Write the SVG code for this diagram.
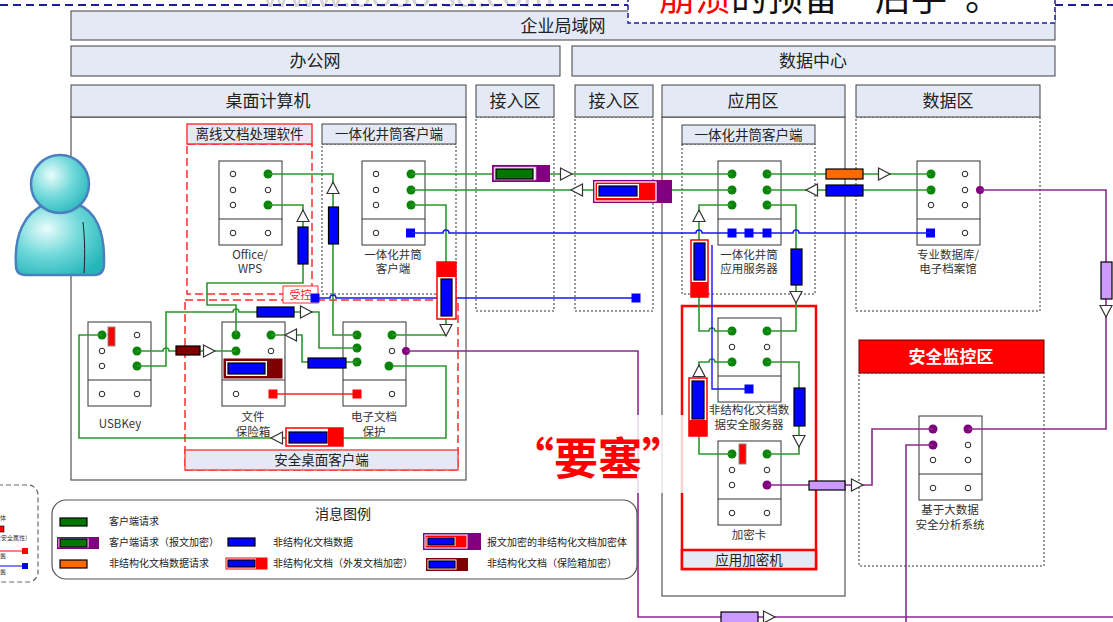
<svg xmlns="http://www.w3.org/2000/svg" width="1113" height="622" viewBox="0 0 1113 622">
<defs>
<style>
text{font-family:"Noto Sans CJK SC","Noto Sans",sans-serif;}
.hd{fill:#e4eaf5;stroke:#404040;stroke-width:1}
.frame{fill:#fff;stroke:#555;stroke-width:1.2}
.zone{fill:none;stroke:#333;stroke-width:1;stroke-dasharray:2 2}
.h17{font-size:17px;fill:#222;text-anchor:middle}
.h13{font-size:13.5px;fill:#222;text-anchor:middle}
.lb{font-size:11.5px;fill:#333;text-anchor:middle}
.dev{fill:#fff;stroke:#333;stroke-width:1}
.ho{fill:#fff;stroke:#222;stroke-width:1}
.gd{fill:#0a850a}
.pd{fill:#800080}
.bs{fill:#0000ff}
.rs{fill:#ff0000}
.gl{fill:none;stroke:#2c962c;stroke-width:1.6}
.bl{fill:none;stroke:#1414ff;stroke-width:1.4}
.pl{fill:none;stroke:#8c2a8c;stroke-width:1.6}
.rl{fill:none;stroke:#ff2020;stroke-width:1.4}
.tri{fill:#fff;stroke:#333;stroke-width:1.2}
.kb{stroke:#000;stroke-width:1.2}
.lg{font-size:10px;fill:#222}
.rdash{fill:none;stroke:#ff2b2b;stroke-width:1.5;stroke-dasharray:8 4}
</style>
<path id="tri" class="tri" d="M-5.5,-6 L6,0 L-5.5,6 Z"/>
<g id="devframe"><rect class="dev" x="0" y="0" width="63" height="84"/><line x1="0" y1="58" x2="63" y2="58" stroke="#333" stroke-width="1"/></g>
<radialGradient id="skin" cx="0.35" cy="0.35" r="0.75">
<stop offset="0" stop-color="#eafcfc"/>
<stop offset="0.5" stop-color="#72d9da"/>
<stop offset="1" stop-color="#25b6ba"/>
</radialGradient>
</defs>
<rect width="1113" height="622" fill="#fff"/>

<!-- faded page text at the top edge -->
<text x="262" y="7" font-size="30" fill="#d4d4d4" font-family="Liberation Sans, sans-serif" textLength="292" lengthAdjust="spacingAndGlyphs">www.oo3o.sd.com</text>

<!-- zone frames -->
<g id="lan"><rect class="hd" x="71" y="11" width="984" height="29"/><text class="h17" x="563" y="32">企业局域网</text></g>
<g id="office-net"><rect class="hd" x="71" y="46" width="489" height="30"/><text class="h17" x="315" y="67">办公网</text></g>
<g id="dc"><rect class="hd" x="572" y="46" width="483" height="30"/><text class="h17" x="813" y="67">数据中心</text></g>

<g id="desktop">
<rect class="frame" x="71" y="117" width="395" height="363"/>
<rect class="hd" x="71" y="85" width="395" height="32"/><text class="h17" x="268" y="107">桌面计算机</text>
</g>
<g id="access1"><rect class="zone" x="476" y="117" width="78" height="194"/><rect class="hd" x="476" y="85" width="78" height="32"/><text class="h17" x="515" y="107">接入区</text></g>
<g id="access2"><rect class="zone" x="575" y="117" width="78" height="194"/><rect class="hd" x="575" y="85" width="78" height="32"/><text class="h17" x="614" y="107">接入区</text></g>
<g id="appzone"><rect class="frame" x="662" y="117" width="183" height="479"/><rect class="hd" x="662" y="85" width="183" height="32"/><text class="h17" x="753" y="107">应用区</text></g>
<g id="datazone"><rect class="zone" x="856" y="117" width="184" height="194"/><rect class="hd" x="856" y="85" width="184" height="32"/><text class="h17" x="948" y="107">数据区</text></g>
<g id="monzone"><rect class="zone" x="859" y="373" width="185" height="193"/><rect x="859" y="340" width="185" height="33" fill="#ff0000" stroke="#600" stroke-width="1"/><text x="951" y="363" font-size="17" font-weight="bold" fill="#fff" text-anchor="middle">安全监控区</text></g>

<g id="offline-sw"><rect class="rdash" x="187" y="144" width="125" height="150"/><rect x="187" y="124" width="125" height="20" fill="#e4eaf5" stroke="#ff2020" stroke-width="1.3"/><text class="h13" x="249.5" y="139">离线文档处理软件</text></g>
<g id="client-sw"><rect class="zone" x="322" y="144" width="134" height="150"/><rect class="hd" x="322" y="124" width="134" height="20"/><text class="h13" x="389" y="139">一体化井筒客户端</text></g>
<g id="app-client"><rect class="zone" x="682" y="144" width="133" height="150"/><rect class="hd" x="682" y="125" width="133" height="19"/><text class="h13" x="748.5" y="139.5">一体化井筒客户端</text></g>
<g id="secure-desk"><rect class="rdash" x="185" y="300" width="273" height="170"/><rect x="185" y="450" width="273" height="20" fill="#e4eaf5" stroke="#ff3030" stroke-width="1.3"/><text class="h13" x="321.5" y="465">安全桌面客户端</text></g>
<g id="crypto-box"><rect x="682" y="306" width="134" height="263" fill="none" stroke="#ff0000" stroke-width="2.5"/><rect x="682" y="550" width="134" height="19" fill="#e4eaf5" stroke="#ff0000" stroke-width="2.5"/><text class="h13" x="749" y="565">应用加密机</text></g>
<g id="ctrl-tag"><rect x="283" y="286" width="35" height="17" fill="#fff" stroke="#ff3030" stroke-width="1"/><text x="300.5" y="299" font-size="11" fill="#ff2020" text-anchor="middle">受控</text></g>

<!-- user -->
<g id="user">
<path d="M16,266 C14,236 24,212 46,204 L76,204 C96,210 105,232 104,264 Q104,275 94,275 L26,275 Q16,275 16,266 Z" fill="url(#skin)" stroke="#4b7fc0" stroke-width="2.5"/>
<circle cx="60" cy="184" r="29" fill="url(#skin)" stroke="#4b7fc0" stroke-width="2.5"/>
<path d="M83,222 C85,240 85,258 84,273" fill="none" stroke="#222" stroke-width="1"/>
</g>

<!-- devices -->
<g id="office-wps">
<use href="#devframe" x="219" y="161"/>
<circle class="ho" cx="233" cy="174" r="2.8"/><circle class="ho" cx="233" cy="190" r="2.8"/><circle class="ho" cx="233" cy="205" r="2.8"/>
<circle class="gd" cx="268" cy="174" r="4.5"/><circle class="ho" cx="268" cy="190" r="2.8"/><circle class="gd" cx="268" cy="205" r="4.5"/>
<circle class="ho" cx="233" cy="233" r="2.8"/><circle class="ho" cx="268" cy="233" r="2.8"/>
<text class="lb" x="250" y="259">Office/</text><text class="lb" x="250" y="273">WPS</text>
</g>
<g id="pc-client">
<use href="#devframe" x="362" y="161"/>
<circle class="ho" cx="376" cy="174" r="2.8"/><circle class="ho" cx="376" cy="190" r="2.8"/><circle class="ho" cx="376" cy="205" r="2.8"/>
<circle class="gd" cx="411" cy="174" r="4.5"/><circle class="gd" cx="411" cy="190" r="4.5"/><circle class="gd" cx="411" cy="205" r="4.5"/>
<circle class="ho" cx="376" cy="233" r="2.8"/><rect class="bs" x="406" y="228.5" width="9" height="9"/>
<text class="lb" x="393" y="259">一体化井筒</text><text class="lb" x="393" y="273">客户端</text>
</g>
<g id="usbkey">
<use href="#devframe" x="88" y="322"/>
<circle class="gd" cx="102" cy="335" r="4.5"/><circle class="ho" cx="102" cy="351" r="2.8"/><circle class="ho" cx="102" cy="366" r="2.8"/>
<circle class="ho" cx="137" cy="335" r="2.8"/><circle class="gd" cx="137" cy="351" r="4.5"/><circle class="gd" cx="137" cy="366" r="4.5"/>
<circle class="ho" cx="102" cy="394" r="2.8"/><circle class="ho" cx="137" cy="394" r="2.8"/>
<rect x="108" y="327" width="7" height="19" fill="#ff0000" stroke="#888" stroke-width="1"/>
<text class="lb" x="120" y="428">USBKey</text>
</g>
<g id="safe-box">
<use href="#devframe" x="222" y="322"/>
<circle class="gd" cx="236" cy="335" r="4.5"/><circle class="gd" cx="236" cy="351" r="4.5"/>
<circle class="gd" cx="271" cy="335" r="4.5"/><circle class="ho" cx="271" cy="351" r="2.8"/>
<circle class="ho" cx="236" cy="394" r="2.8"/>
<rect x="224" y="359" width="58" height="19" fill="#7f0000" stroke="#7f0000"/>
<rect x="226" y="361" width="41" height="15" fill="#fff"/>
<rect class="kb" x="228" y="363" width="37" height="11" fill="#0000ff"/>
<text class="lb" x="253" y="421">文件</text><text class="lb" x="253" y="436">保险箱</text>
</g>
<g id="doc-protect">
<use href="#devframe" x="343" y="322"/>
<circle class="gd" cx="357" cy="335" r="4.5"/><circle class="gd" cx="357" cy="348" r="4.5"/><circle class="gd" cx="357" cy="362" r="4.5"/>
<circle class="gd" cx="392" cy="335" r="4.5"/><circle class="ho" cx="392" cy="351" r="2.8"/><circle class="gd" cx="389" cy="366" r="4.5"/>
<circle class="pd" cx="406" cy="351" r="4"/>
<circle class="ho" cx="392" cy="394" r="2.8"/>
<text class="lb" x="374" y="421">电子文档</text><text class="lb" x="374" y="436">保护</text>
</g>
<g id="app-server">
<use href="#devframe" x="718" y="161"/>
<circle class="gd" cx="732" cy="174" r="4.5"/><circle class="gd" cx="732" cy="190" r="4.5"/><circle class="gd" cx="732" cy="205" r="4.5"/>
<circle class="gd" cx="767" cy="174" r="4.5"/><circle class="gd" cx="767" cy="190" r="4.5"/><circle class="gd" cx="767" cy="205" r="4.5"/>
<text class="lb" x="749" y="259">一体化井筒</text><text class="lb" x="749" y="273">应用服务器</text>
</g>
<g id="doc-sec-server">
<use href="#devframe" x="718" y="318"/>
<circle class="gd" cx="732" cy="331" r="4.5"/><circle class="ho" cx="732" cy="347" r="2.8"/><circle class="gd" cx="732" cy="362" r="4.5"/>
<circle class="gd" cx="767" cy="331" r="4.5"/><circle class="ho" cx="767" cy="347" r="2.8"/><circle class="gd" cx="767" cy="362" r="4.5"/>
<text class="lb" x="749" y="414">非结构化文档数</text><text class="lb" x="749" y="429">据安全服务器</text>
</g>
<g id="crypto-card">
<use href="#devframe" x="718" y="441"/>
<circle class="gd" cx="732" cy="454" r="4.5"/><circle class="ho" cx="732" cy="470" r="2.8"/><circle class="ho" cx="732" cy="485" r="2.8"/>
<circle class="gd" cx="767" cy="454" r="4.5"/><circle class="ho" cx="767" cy="470" r="2.8"/><circle class="pd" cx="767" cy="485" r="4.5"/>
<circle class="ho" cx="732" cy="513" r="2.8"/><circle class="ho" cx="767" cy="513" r="2.8"/>
<rect x="739" y="444" width="7" height="20" fill="#ff0000" stroke="#888" stroke-width="1"/>
<text class="lb" x="749" y="539">加密卡</text>
</g>
<g id="archive-db">
<use href="#devframe" x="917" y="161"/>
<circle class="gd" cx="931" cy="174" r="4.5"/><circle class="gd" cx="931" cy="190" r="4.5"/><circle class="ho" cx="931" cy="205" r="2.8"/>
<circle class="ho" cx="965" cy="174" r="2.8"/><circle class="ho" cx="965" cy="190" r="2.8"/><circle class="ho" cx="965" cy="205" r="2.8"/>
<circle class="pd" cx="980" cy="190" r="4"/>
<rect class="bs" x="926" y="228.5" width="9" height="9"/><circle class="ho" cx="965" cy="233" r="2.8"/>
<text class="lb" x="948" y="259">专业数据库/</text><text class="lb" x="948" y="273">电子档案馆</text>
</g>
<g id="bigdata">
<use href="#devframe" x="919" y="416"/>
<circle class="pd" cx="933" cy="429" r="4.5"/><circle class="pd" cx="933" cy="445" r="4.5"/><circle class="ho" cx="933" cy="460" r="2.8"/>
<circle class="pd" cx="968" cy="429" r="4.5"/><circle class="ho" cx="968" cy="445" r="2.8"/><circle class="ho" cx="968" cy="460" r="2.8"/>
<circle class="ho" cx="933" cy="488" r="2.8"/><circle class="ho" cx="968" cy="488" r="2.8"/>
<text class="lb" x="950" y="514">基于大数据</text><text class="lb" x="950" y="529">安全分析系统</text>
</g>

<!-- connectors -->
<g id="connectors">
<!-- green request/response lines -->
<path class="gl" d="M357,335 H333 V174 H268"/>
<path class="gl" d="M268,205 H303 V283 H207 V305 H236 V335"/>
<path class="gl" d="M411,174 H732"/>
<path class="gl" d="M411,190 H732"/>
<path class="gl" d="M411,205 H446 V335 H392"/>
<path class="gl" d="M767,174 H931"/>
<path class="gl" d="M767,190 H931"/>
<path class="gl" d="M767,205 H796 V331 H767"/>
<path class="gl" d="M732,205 H699 V331 H709 a3,3 0 0 1 6,0 H732"/>
<path class="gl" d="M732,362 H715 a3,3 0 0 0 -6,0 H699 V454 H732"/>
<path class="gl" d="M767,362 H799 V454 H767"/>
<path class="gl" d="M392,366 H446 V438 H79 V335 H102"/>
<path class="gl" d="M137,351 H163 a3,3 0 0 1 6,0 H236"/>
<path class="gl" d="M137,366 H166 V312 H233 a3,3 0 0 1 6,0 H319 V348 H357"/>
<path class="gl" d="M271,335 H302 V362 H357"/>
<!-- blue document data lines -->
<path class="bl" d="M411,233 H443 a3,3 0 0 1 6,0 H696 a3,3 0 0 1 6,0 H793 a3,3 0 0 1 6,0 H930"/>
<path class="bl" d="M712,245 V389 H749"/>
<path class="bl" d="M315,298 H330 a3,3 0 0 1 6,0 H636"/>
<rect class="bs" x="727.5" y="228.5" width="9" height="9"/>
<rect class="bs" x="744.5" y="228.5" width="9" height="9"/>
<rect class="bs" x="762.5" y="228.5" width="9" height="9"/>
<rect class="bs" x="744.5" y="384.5" width="9" height="9"/>
<rect class="bs" x="310.5" y="293.5" width="9" height="9"/>
<rect class="bs" x="631.5" y="293.5" width="9" height="9"/>
<!-- red local line -->
<path class="rl" d="M273,394 H357"/>
<rect class="rs" x="268.5" y="389.5" width="9" height="9"/>
<rect class="rs" x="352.5" y="389.5" width="9" height="9"/>
<!-- purple audit lines -->
<path class="pl" d="M767,485 H872 V429 H933"/>
<path class="pl" d="M980,190 H1106 V429 H968"/>
<path class="pl" d="M933,445 H906 V622"/>
<path class="pl" d="M406,351 H638 V617 H1113"/>

<!-- message payloads and arrowheads -->
<rect x="328.5" y="207" width="10" height="37" fill="#0000ff" class="kb"/>
<use href="#tri" transform="translate(333,188) rotate(-90)"/>
<rect x="298" y="227" width="10" height="37" fill="#0000ff" class="kb"/>
<use href="#tri" transform="translate(303,216) rotate(-90)"/>

<rect x="492" y="165" width="58" height="17" fill="#800080"/>
<rect x="494" y="167" width="42" height="13" fill="#fff" stroke="#c080c0" stroke-width="0.8"/>
<rect x="496" y="169" width="37" height="10" fill="#007800" class="kb"/>
<use href="#tri" transform="translate(566,174)"/>

<use href="#tri" transform="translate(577,190) rotate(180)"/>
<rect x="593" y="180" width="79" height="23" fill="#800080"/>
<rect x="595" y="182" width="61" height="19" fill="#ff0000" stroke="#fff" stroke-width="1.2"/>
<rect x="597" y="184" width="42" height="14" fill="#fff"/>
<rect x="599" y="186" width="38" height="10" fill="#0000ff" class="kb"/>

<rect x="437" y="262" width="19" height="57" fill="#fff" stroke="#ff0000" stroke-width="1.5"/>
<rect x="437" y="262" width="19" height="15" fill="#ff0000"/>
<rect x="441" y="279" width="11" height="37" fill="#0000ff" class="kb"/>
<use href="#tri" transform="translate(446,330) rotate(90)"/>

<rect x="826" y="169" width="37" height="10" fill="#ff6a00" class="kb"/>
<use href="#tri" transform="translate(884,174)"/>
<use href="#tri" transform="translate(812,190) rotate(180)"/>
<rect x="826" y="185" width="37" height="11" fill="#0000ff" class="kb"/>

<rect x="791" y="249" width="11" height="36" fill="#0000ff" class="kb"/>
<use href="#tri" transform="translate(796,297) rotate(90)"/>
<use href="#tri" transform="translate(699,216) rotate(-90)"/>
<rect x="691" y="240" width="17" height="57" fill="#fff" stroke="#ff0000" stroke-width="1.5"/>
<rect x="691" y="282" width="17" height="15" fill="#ff0000"/>
<rect x="694" y="243" width="11" height="37" fill="#0000ff" class="kb"/>

<use href="#tri" transform="translate(699,371) rotate(-90)"/>
<rect x="689" y="378" width="18" height="58" fill="#fff" stroke="#ff0000" stroke-width="1.5"/>
<rect x="689" y="420" width="18" height="16" fill="#ff0000"/>
<rect x="692" y="381" width="12" height="38" fill="#0000ff" class="kb"/>
<rect x="794" y="388" width="11" height="38" fill="#0000ff" class="kb"/>
<use href="#tri" transform="translate(799,441) rotate(90)"/>

<rect x="809" y="481" width="36" height="9" fill="#cc99ff" class="kb"/>
<use href="#tri" transform="translate(857,485)"/>
<rect x="1101" y="262" width="11" height="37" fill="#cc99ff" class="kb"/>
<use href="#tri" transform="translate(1106,311) rotate(90)"/>
<rect x="721" y="612" width="37" height="11" fill="#cc99ff" class="kb"/>
<use href="#tri" transform="translate(769,617)"/>

<use href="#tri" transform="translate(277,438) rotate(180)"/>
<rect x="286" y="428" width="57" height="18" fill="#fff" stroke="#ff0000" stroke-width="1.5"/>
<rect x="328" y="428" width="15" height="18" fill="#ff0000"/>
<rect x="289" y="432" width="38" height="11" fill="#0000ff" class="kb"/>

<rect x="176" y="346" width="24" height="9" fill="#7f0000" class="kb"/>
<use href="#tri" transform="translate(209,351)"/>
<rect x="257" y="307" width="37" height="10" fill="#0000ff" class="kb"/>
<use href="#tri" transform="translate(306,312)"/>
<use href="#tri" transform="translate(291,335) rotate(180)"/>
<rect x="308" y="358" width="38" height="10" fill="#0000ff" class="kb"/>
</g>

<!-- washed-out strip -->
<rect x="637" y="415" width="47" height="78" fill="#fff" opacity="0.82"/>

<text x="510" y="475" font-size="44" font-weight="bold" fill="#ff0000">“要塞”</text>

<!-- message legend -->
<g id="legend">
<rect x="52" y="500" width="585" height="79" rx="14" fill="#fff" stroke="#555" stroke-width="1.2"/>
<text x="343" y="519" font-size="14" fill="#222" text-anchor="middle">消息图例</text>
<rect x="60" y="518" width="27" height="8" fill="#007800" class="kb"/>
<text class="lg" x="109" y="525">客户端请求</text>
<rect x="57" y="537" width="42" height="12" fill="#800080"/>
<rect x="58.5" y="538.5" width="30" height="9" fill="#fff"/>
<rect x="60" y="539" width="27" height="8" fill="#007800" class="kb"/>
<text class="lg" x="109" y="546">客户端请求（报文加密）</text>
<rect x="228" y="538" width="27" height="8" fill="#0000ff" class="kb"/>
<text class="lg" x="273" y="546">非结构化文档数据</text>
<rect x="423" y="533" width="58" height="17" fill="#800080"/>
<rect x="425" y="535" width="42" height="13" fill="#ff0000" stroke="#fff" stroke-width="1"/>
<rect x="426.5" y="537" width="29" height="9" fill="#fff"/>
<rect x="428" y="538" width="26" height="7" fill="#0000ff" class="kb"/>
<text class="lg" x="487" y="546">报文加密的非结构化文档加密体</text>
<rect x="60" y="560" width="27" height="8" fill="#ff6a00" class="kb"/>
<text class="lg" x="109" y="567">非结构化文档数据请求</text>
<rect x="226" y="558" width="41" height="11" fill="#fff" stroke="#ff0000" stroke-width="1"/>
<rect x="256" y="558" width="11" height="11" fill="#ff0000"/>
<rect x="228" y="560" width="27" height="7" fill="#0000ff" class="kb"/>
<text class="lg" x="273" y="567">非结构化文档（外发文档加密）</text>
<rect x="426" y="558" width="42" height="13" fill="#7f0000"/>
<rect x="427.5" y="559.5" width="29" height="10" fill="#fff"/>
<rect x="429" y="561" width="26" height="7" fill="#0000ff" class="kb"/>
<text class="lg" x="487" y="567">非结构化文档（保险箱加密）</text>
</g>

<!-- cut-off legend at the left margin -->
<g id="legend-left">
<rect x="-20" y="485" width="58" height="97" rx="10" fill="#fff" stroke="#666" stroke-width="1.2" stroke-dasharray="5 3"/>
<text x="0" y="520" font-size="6" fill="#333">体</text>
<rect x="-4" y="526" width="8" height="6" fill="#ff0000" stroke="#000" stroke-width="0.6"/>
<text x="27" y="540" font-size="6" fill="#333" text-anchor="end">含安全属性)</text>
<path d="M0,551 H24" stroke="#ff0000" stroke-width="1"/><rect x="22" y="548" width="6" height="6" fill="#ff0000"/>
<text x="0" y="558" font-size="6" fill="#333">酱</text>
<path d="M0,566 H24" stroke="#0000ff" stroke-width="1"/><rect x="22" y="563" width="6" height="6" fill="#0000ff"/>
<text x="0" y="574" font-size="6" fill="#333">酱</text>
</g>

<!-- banner at the top edge -->
<g id="banner">
<path d="M0,5 H628 M1055,5 H1113" stroke="#1c1c9c" stroke-width="2" stroke-dasharray="8 5"/>
<rect x="628" y="-6" width="427" height="29" fill="#fff" stroke="#1c1c9c" stroke-width="1.5" stroke-dasharray="5 3"/>
<text x="659" y="11" font-size="36" fill="#111"><tspan fill="#ff0000">崩溃</tspan>的预备“后手”。</text>
</g>
</svg>
